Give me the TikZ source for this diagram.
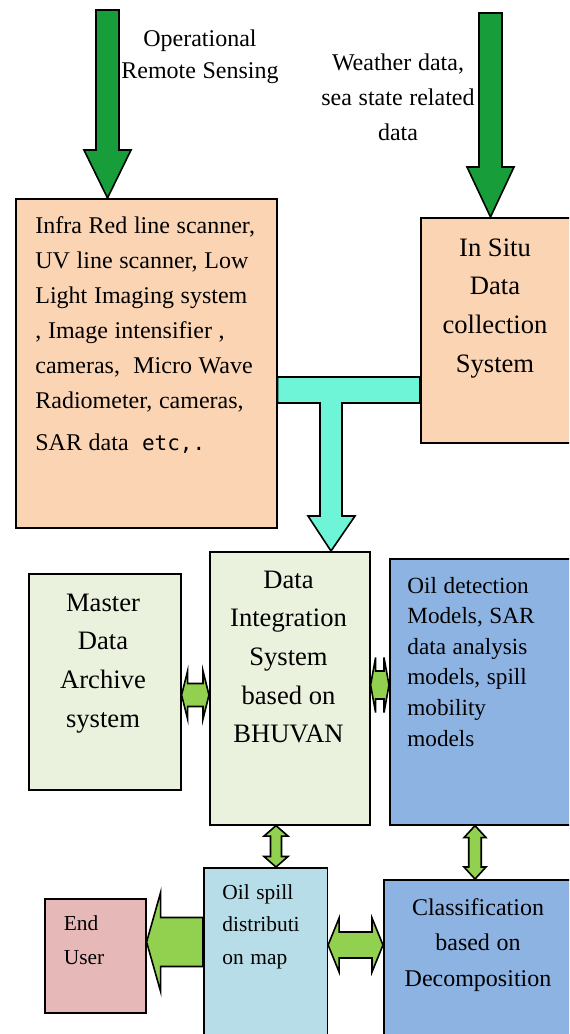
\documentclass[tikz,border=0pt]{standalone}
\usepackage{fontspec}
\setmainfont{Liberation Serif}
\newfontfamily\etcfont{DejaVu Sans Mono}
\usepackage{xcolor}
\definecolor{ArrowGreen}{RGB}{23,158,58}
\definecolor{LimeGreen}{RGB}{146,208,80}
\definecolor{AquaTee}{RGB}{110,245,216}
\definecolor{PeachBox}{RGB}{251,212,180}
\definecolor{SageBox}{RGB}{234,241,221}
\definecolor{BlueBox}{RGB}{141,179,226}
\definecolor{IceBox}{RGB}{183,221,232}
\definecolor{RoseBox}{RGB}{230,185,184}
\usetikzlibrary{calc}
\newcommand{\boxfont}[2]{\fontsize{#1}{#2}\selectfont}

\tikzset{
  box/.style={draw, line width=0.8pt, inner sep=0pt, anchor=north west},
  lbl/.style={inner sep=0pt, anchor=base, align=center},
  blockarrow/.style={draw, line width=0.8pt, line join=miter},
  % shaft half / head half / head length
  down arrow/.style args={#1/#2/#3}{to path={
    ($(\tikztostart)+(-#1,0)$) -- ($(\tikztotarget)+(-#1,-#3)$) -- ($(\tikztotarget)+(-#2,-#3)$)
    -- (\tikztotarget) -- ($(\tikztotarget)+(#2,-#3)$) -- ($(\tikztotarget)+(#1,-#3)$)
    -- ($(\tikztostart)+(#1,0)$) -- cycle}},
  left arrow/.style args={#1/#2/#3}{to path={
    ($(\tikztostart)+(0,-#1)$) -- ($(\tikztotarget)+(#3,-#1)$) -- ($(\tikztotarget)+(#3,-#2)$)
    -- (\tikztotarget) -- ($(\tikztotarget)+(#3,#2)$) -- ($(\tikztotarget)+(#3,#1)$)
    -- ($(\tikztostart)+(0,#1)$) -- cycle}},
  hdouble/.style args={#1/#2/#3}{to path={
    (\tikztostart) -- ($(\tikztostart)+(#3,-#2)$) -- ($(\tikztostart)+(#3,-#1)$)
    -- ($(\tikztotarget)+(-#3,-#1)$) -- ($(\tikztotarget)+(-#3,-#2)$) -- (\tikztotarget)
    -- ($(\tikztotarget)+(-#3,#2)$) -- ($(\tikztotarget)+(-#3,#1)$)
    -- ($(\tikztostart)+(#3,#1)$) -- ($(\tikztostart)+(#3,#2)$) -- cycle}},
  vdouble/.style args={#1/#2/#3}{to path={
    (\tikztostart) -- ($(\tikztostart)+(#2,#3)$) -- ($(\tikztostart)+(#1,#3)$)
    -- ($(\tikztotarget)+(#1,-#3)$) -- ($(\tikztotarget)+(#2,-#3)$) -- (\tikztotarget)
    -- ($(\tikztotarget)+(-#2,-#3)$) -- ($(\tikztotarget)+(-#1,-#3)$)
    -- ($(\tikztostart)+(-#1,#3)$) -- ($(\tikztostart)+(-#2,#3)$) -- cycle}}
}

\begin{document}
\begin{tikzpicture}[x=0.5pt, y=-0.5pt]
  \useasboundingbox (0,0) rectangle (569,1034);
  \clip (0,0) rectangle (569,1034);
  % cajas
  \node[box, fill=PeachBox, minimum width=130.5pt, minimum height=164.5pt] (irbox) at (15,198) {};
  \node[box, fill=PeachBox, minimum width=77.5pt, minimum height=112.5pt] (insitu) at (420,217) {};
  \node[box, fill=SageBox, minimum width=76pt, minimum height=108pt] (master) at (28,573) {};
  \node[box, fill=SageBox, minimum width=80pt, minimum height=136.5pt] (dis) at (209,551) {};
  \node[box, fill=BlueBox, minimum width=93pt, minimum height=133pt] (oildet) at (389,558) {};
  \node[box, fill=IceBox, minimum width=61.75pt, minimum height=86.5pt] (oilmap) at (203,867) {};
  \node[box, fill=BlueBox, minimum width=96pt, minimum height=80.5pt] (class) at (383,879) {};
  \node[box, fill=RoseBox, minimum width=50.5pt, minimum height=57pt] (enduser) at (44,898) {};
  % textos
  \node[lbl, text width=100pt] (rslabel) at (200,46) {\boxfont{12}{16}Operational\\ Remote Sensing\par};
  \node[lbl, text width=100pt] (wdlabel) at (398,70) {\boxfont{12}{17.5}Weather data,\\ sea state related\\ data\par};
  \node[lbl, anchor=base west, align=left, text width=125pt] (irtext) at ([shift={(20,35)}]irbox.north west)
    {\boxfont{12}{17.5}Infra Red line scanner,\\ UV line scanner, Low\\ Light Imaging system\\ , Image intensifier ,\\ cameras,\ \ Micro Wave\\ Radiometer, cameras,\\[3.5pt] SAR data\ \ {\etcfont\fontsize{10.5}{17.5}\selectfont etc,.}\par};
  \node[lbl, text width=72pt] (insitutext) at ([shift={(75,39)}]insitu.north west)
    {\boxfont{13.3}{19.35}In Situ\\ Data\\ collection\\ System\par};
  \node[lbl, text width=72pt] (mastertext) at ([shift={(75,38)}]master.north west)
    {\boxfont{13.3}{19.35}Master\\ Data\\ Archive\\ system\par};
  \node[lbl, text width=76pt] (distext) at ([shift={(79.5,37)}]dis.north west)
    {\boxfont{13.3}{19.35}Data\\ Integration\\ System\\ based on\\ BHUVAN\par};
  \node[lbl, anchor=base west, align=left, text width=80pt] (oildettext) at ([shift={(18,35)}]oildet.north west)
    {\boxfont{11.6}{15.3}Oil detection\\ Models, SAR\\ data analysis\\ models, spill\\ mobility\\ models\par};
  \node[lbl, anchor=base west, align=left, text width=55pt] (oilmaptext) at ([shift={(19,32)}]oilmap.north west)
    {\boxfont{10.7}{16.25}Oil spill\\ distributi\\ on map\par};
  \node[lbl, anchor=base west, align=left, text width=40pt] (endusertext) at ([shift={(19.5,32)}]enduser.north west)
    {\boxfont{10.7}{17}End\\ User\par};
  \node[lbl, text width=90pt] (classtext) at ([shift={(95,36)}]class.north west)
    {\boxfont{12}{17.75}Classification\\ based on\\ Decomposition\par};
  % puntos de las flechas
  \coordinate (rsin) at (107.5,10);
  \coordinate (rsout) at (irbox.north -| rsin);
  \coordinate (wdin) at (490.5,13);
  \coordinate (wdout) at (insitu.north -| wdin);
  \coordinate (ma) at (master.east |- 0,695);
  \coordinate (da) at (dis.west |- ma);
  \coordinate (db) at (dis.east |- 0,685);
  \coordinate (ob) at (oildet.west |- db);
  \coordinate (dc) at (dis.south -| 276,0);
  \coordinate (mc) at (oilmap.north -| dc);
  \coordinate (od) at (oildet.south -| 475,0);
  \coordinate (cd) at (class.north -| od);
  \coordinate (me) at (oilmap.west |- 0,942);
  \coordinate (ue) at (enduser.east |- me);
  \coordinate (mf) at (oilmap.east |- 0,945);
  \coordinate (cf) at (class.west |- mf);
  % flechas
  \draw[blockarrow, fill=ArrowGreen, down arrow=11.5/23.5/48] (rsin) to (rsout);
  \draw[blockarrow, fill=ArrowGreen, down arrow=11.5/23.5/50] (wdin) to (wdout);
  \draw[blockarrow, fill=AquaTee] (irbox.east |- 0,377) -- (insitu.west |- 0,377)
    -- (insitu.west |- 0,403) -- (342,403) -- (342,516) -- (355,516) -- (dis.north -| 331,0)
    -- (308,516) -- (320,516) -- (320,403) -- (irbox.east |- 0,403) -- cycle;
  \draw[blockarrow, fill=LimeGreen, hdouble=11.5/24/6] (ma) to (da);
  \draw[blockarrow, fill=LimeGreen, hdouble=14/27.5/5] (db) to (ob);
  \draw[blockarrow, fill=LimeGreen, vdouble=5.5/12/10.5] (dc) to (mc);
  \draw[blockarrow, fill=LimeGreen, vdouble=6.25/11/12] (od) to (cd);
  \draw[blockarrow, fill=LimeGreen, left arrow=24.5/49.5/14] (me) to (ue);
  \draw[blockarrow, fill=LimeGreen, hdouble=13/27/11] (mf) to (cf);
\end{tikzpicture}
\end{document}
